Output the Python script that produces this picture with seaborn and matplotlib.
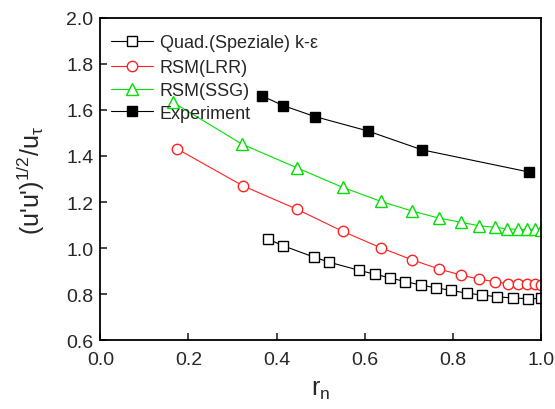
import numpy as np
import seaborn as sb
import pandas as pd
import matplotlib
matplotlib.use("Agg")
import matplotlib.pyplot as plt

# values
quad_x = [0.381, 0.415, 0.486, 0.519, 0.588, 0.624, 0.659, 0.693, 0.728, 0.763,
          0.797, 0.832, 0.867, 0.902, 0.937, 0.972, 1.0]
quad_y = [1.039, 1.010, 0.960, 0.939, 0.903, 0.886, 0.870, 0.854, 0.839, 0.827,
          0.816, 0.804, 0.796, 0.788, 0.783, 0.780, 0.781]

lrr_x = [0.175, 0.323, 0.447, 0.550, 0.637, 0.708, 0.769, 0.819, 0.860, 0.896,
         0.925, 0.949, 0.970, 0.988, 1.0]
lrr_y = [1.430, 1.271, 1.168, 1.073, 1.001, 0.949, 0.909, 0.883, 0.865, 0.854,
         0.845, 0.843, 0.842, 0.842, 0.841]

ssg_x = [0.165, 0.321, 0.447, 0.550, 0.637, 0.708, 0.769, 0.819, 0.860, 0.896,
         0.923, 0.949, 0.970, 0.988, 1.0]
ssg_y = [1.633, 1.452, 1.348, 1.264, 1.203, 1.161, 1.130, 1.112, 1.097, 1.090,
         1.084, 1.081, 1.081, 1.081, 1.080]

exp_x = [0.366, 0.415, 0.4875, 0.607, 0.730, 0.9745]
exp_y = [1.662, 1.619, 1.571, 1.509, 1.427, 1.330]

labels = [r"Quad.(Speziale) k-$\mathregular{\varepsilon}$", "RSM(LRR)", "RSM(SSG)", "Experiment"]

sb.set_style("ticks")
plt.rcParams['font.family'] = ['Liberation Sans', 'DejaVu Sans']
plt.rcParams['mathtext.fontset'] = 'custom'
plt.rcParams['mathtext.rm'] = 'Liberation Sans'
plt.rcParams['mathtext.it'] = 'Liberation Sans'

fig = plt.figure(figsize=(5.55, 4.10), dpi=100)
ax = fig.add_axes([0.181, 0.168, 0.793, 0.786])

#one lineplot per model: x, y, line colour, marker, marker face, marker size
series = [
    (quad_x, quad_y, "black", "s", "white", 6.5),
    (lrr_x, lrr_y, "#ff2020", "o", "white", 7.5),
    (ssg_x, ssg_y, "#00e000", "^", "white", 8.5),
    (exp_x, exp_y, "black", "s", "black", 7),
]
for (xs, ys, c, m, fc, ms), lab in zip(series, labels):
    df = pd.DataFrame({"rn": xs, "u": ys})
    sb.lineplot(data=df, x="rn", y="u", sort=False, ax=ax, color=c, lw=0.8,
                marker=m, markersize=ms, markerfacecolor=fc, markeredgecolor=c,
                markeredgewidth=1.0, label=lab)

ax.set_xlim(0.0, 1.0)
ax.set_ylim(0.6, 2.0)
ax.set_xticks(np.arange(0.0, 1.01, 0.2))
ax.set_yticks(np.arange(0.6, 2.01, 0.2))
ax.set_xticklabels(["%.1f" % v for v in np.arange(0.0, 1.01, 0.2)])
ax.set_yticklabels(["%.1f" % v for v in np.arange(0.6, 2.01, 0.2)])
ax.tick_params(direction="in", length=5, width=1.2, labelsize=14)
ax.tick_params(axis="x", pad=8)
ax.tick_params(axis="y", pad=5)
for s in ax.spines.values():
    s.set_linewidth(1.3)
    s.set_color("black")

ax.set_xlabel(r"r$_\mathregular{n}$", fontsize=18, labelpad=6)
ax.set_ylabel(r"(u'u')$^\mathregular{1/2}$/u$_\mathregular{\tau}$", fontsize=18, labelpad=14)

ax.legend(loc="upper left", frameon=False, fontsize=13, handlelength=2.3,
          handletextpad=0.35, labelspacing=0.33, borderaxespad=0.2,
          bbox_to_anchor=(0.0, 0.99))

plt.savefig("out.png", dpi=100)
